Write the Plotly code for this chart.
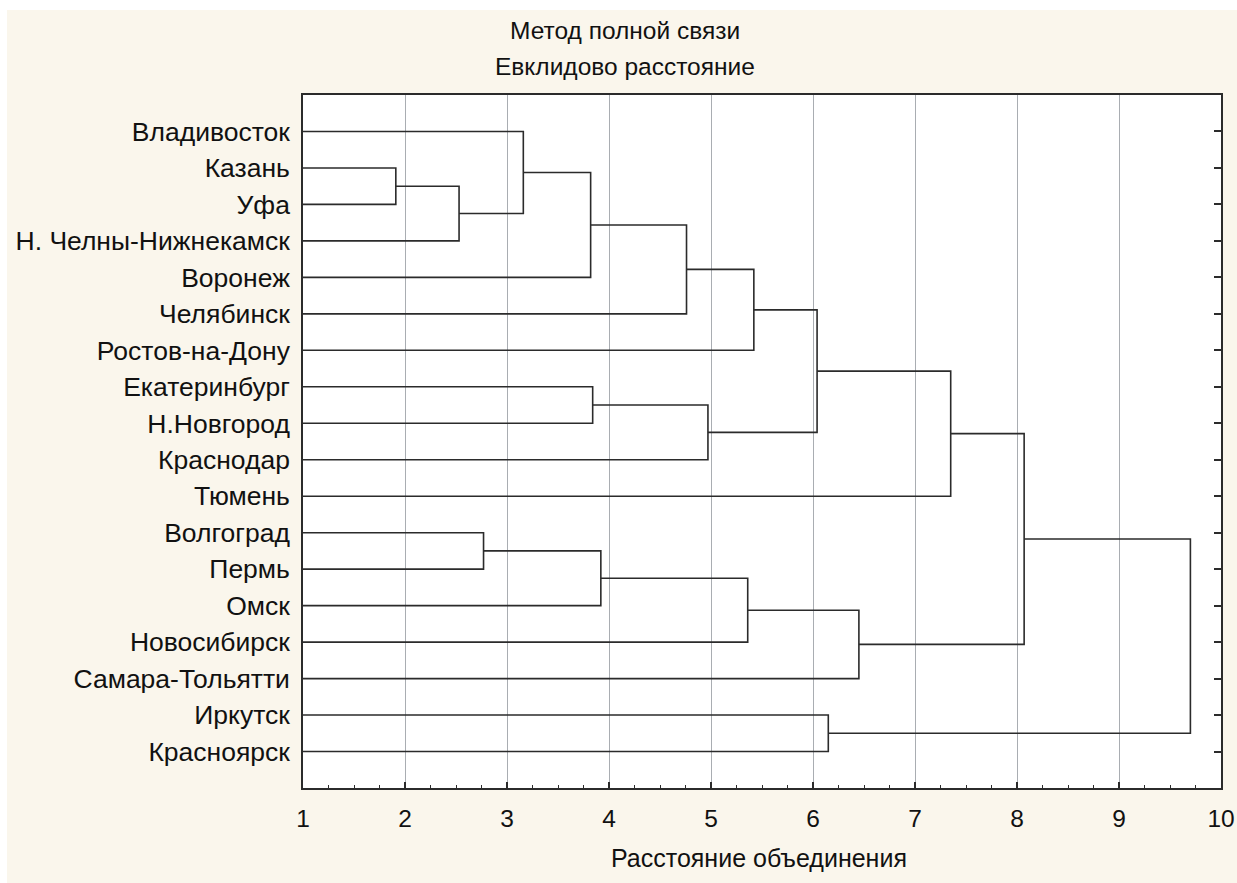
import plotly.graph_objects as go

# Leaves, top to bottom
labels = ["Владивосток", "Казань", "Уфа", "Н. Челны-Нижнекамск", "Воронеж",
          "Челябинск", "Ростов-на-Дону", "Екатеринбург", "Н.Новгород", "Краснодар",
          "Тюмень", "Волгоград", "Пермь", "Омск", "Новосибирск", "Самара-Тольятти",
          "Иркутск", "Красноярск"]

# Merges: (left child, right child, linkage distance); ints refer to earlier merges
merge_left = ["Казань", 0, "Владивосток", 2, 3, 4, "Екатеринбург", 6, 5, 8,
              "Волгоград", 10, 11, 12, "Иркутск", 9, 15]
merge_right = ["Уфа", "Н. Челны-Нижнекамск", 1, "Воронеж", "Челябинск", "Ростов-на-Дону",
               "Н.Новгород", "Краснодар", 7, "Тюмень", "Пермь", "Омск", "Новосибирск",
               "Самара-Тольятти", "Красноярск", 13, 14]
merge_height = [1.91, 2.53, 3.16, 3.82, 4.76, 5.42, 3.84, 4.97, 6.04, 7.35,
                2.77, 3.92, 5.36, 6.45, 6.15, 8.07, 9.70]

x_ticks = list(range(1, 11))
x_title = "Расстояние объединения"
title_lines = ["Метод полной связи", "Евклидово расстояние"]

base = 1.0
pos = {}
hgt = {}
for i, lab in enumerate(labels):
    pos[lab] = i + 1
    hgt[lab] = base

xs, ys = [], []
for k, (a, b, h) in enumerate(zip(merge_left, merge_right, merge_height)):
    ya, yb = pos[a], pos[b]
    ha, hb = hgt[a], hgt[b]
    xs += [ha, h, h, hb, None]
    ys += [ya, ya, yb, yb, None]
    pos[k] = (ya + yb) / 2
    hgt[k] = h

FONT = "Liberation Sans, Arial, sans-serif"
DARK = "#2b2b2b"
TXT = "#111111"
W, H = 1237, 883
ML, MR, MT, MB = 303, 16, 95, 95
PW = W - ML - MR
PH = H - MT - MB


def py(pix):
    """paper y for a pixel row"""
    return 1 - (pix - MT) / PH


def px(pix):
    return (pix - ML) / PW


fig = go.Figure()
fig.add_trace(go.Scatter(x=xs, y=ys, mode="lines",
                         line=dict(color=DARK, width=1.6),
                         hoverinfo="skip", showlegend=False))
fig.add_trace(go.Scatter(x=[None], y=[None], yaxis="y2", showlegend=False,
                         hoverinfo="skip"))

annotations = [
    dict(text=title_lines[0], xref="paper", yref="paper", x=px(625), y=py(30),
         xanchor="center", yanchor="middle", showarrow=False,
         font=dict(family=FONT, size=24.5, color=TXT)),
    dict(text=title_lines[1], xref="paper", yref="paper", x=px(625), y=py(66),
         xanchor="center", yanchor="middle", showarrow=False,
         font=dict(family=FONT, size=24.5, color=TXT)),
    dict(text=x_title, xref="paper", yref="paper", x=px(759), y=py(858),
         xanchor="center", yanchor="middle", showarrow=False,
         font=dict(family=FONT, size=25, color=TXT)),
]

fig.update_layout(
    width=W, height=H,
    paper_bgcolor="#FAF6EC", plot_bgcolor="#FFFFFF",
    margin=dict(l=ML, r=MR, t=MT, b=MB),
    font=dict(family=FONT, size=24, color=TXT),
    showlegend=False,
    annotations=annotations,
    xaxis=dict(range=[1, 10], tickvals=x_ticks, ticktext=[str(v) for v in x_ticks],
               showgrid=True, gridcolor="#A9ADB2", gridwidth=1,
               showline=True, linecolor=DARK, linewidth=1.6, mirror=True,
               ticks="inside", ticklen=6, tickwidth=1.6, tickcolor=DARK,
               minor=dict(ticks="inside", ticklen=3, tickwidth=1.2, tickcolor=DARK,
                          dtick=0.25, showgrid=False),
               zeroline=False, ticklabelstandoff=8, automargin=False,
               tickfont=dict(family=FONT, size=24.5, color=TXT)),
    yaxis=dict(range=[19, 0], tickvals=list(range(1, 19)), ticktext=labels,
               showgrid=False, zeroline=False, ticks="",
               showline=True, linecolor=DARK, linewidth=1.6, mirror=True,
               ticklabelstandoff=6, automargin=False,
               tickfont=dict(family=FONT, size=26.5, color=TXT)),
    yaxis2=dict(range=[19, 0], overlaying="y", side="right",
                tickvals=list(range(1, 19)), showticklabels=False,
                ticks="inside", ticklen=7, tickwidth=1.6, tickcolor=DARK,
                showgrid=False, zeroline=False, showline=False, automargin=False),
    shapes=[
        dict(type="rect", xref="paper", yref="paper", x0=px(-5), x1=px(7),
             y0=py(H + 5), y1=py(-5), fillcolor="white", line=dict(width=0),
             layer="below"),
        dict(type="rect", xref="paper", yref="paper", x0=px(-5), x1=px(W + 5),
             y0=py(10), y1=py(-5), fillcolor="white", line=dict(width=0),
             layer="below"),
    ],
)

fig.write_html("out.html")
